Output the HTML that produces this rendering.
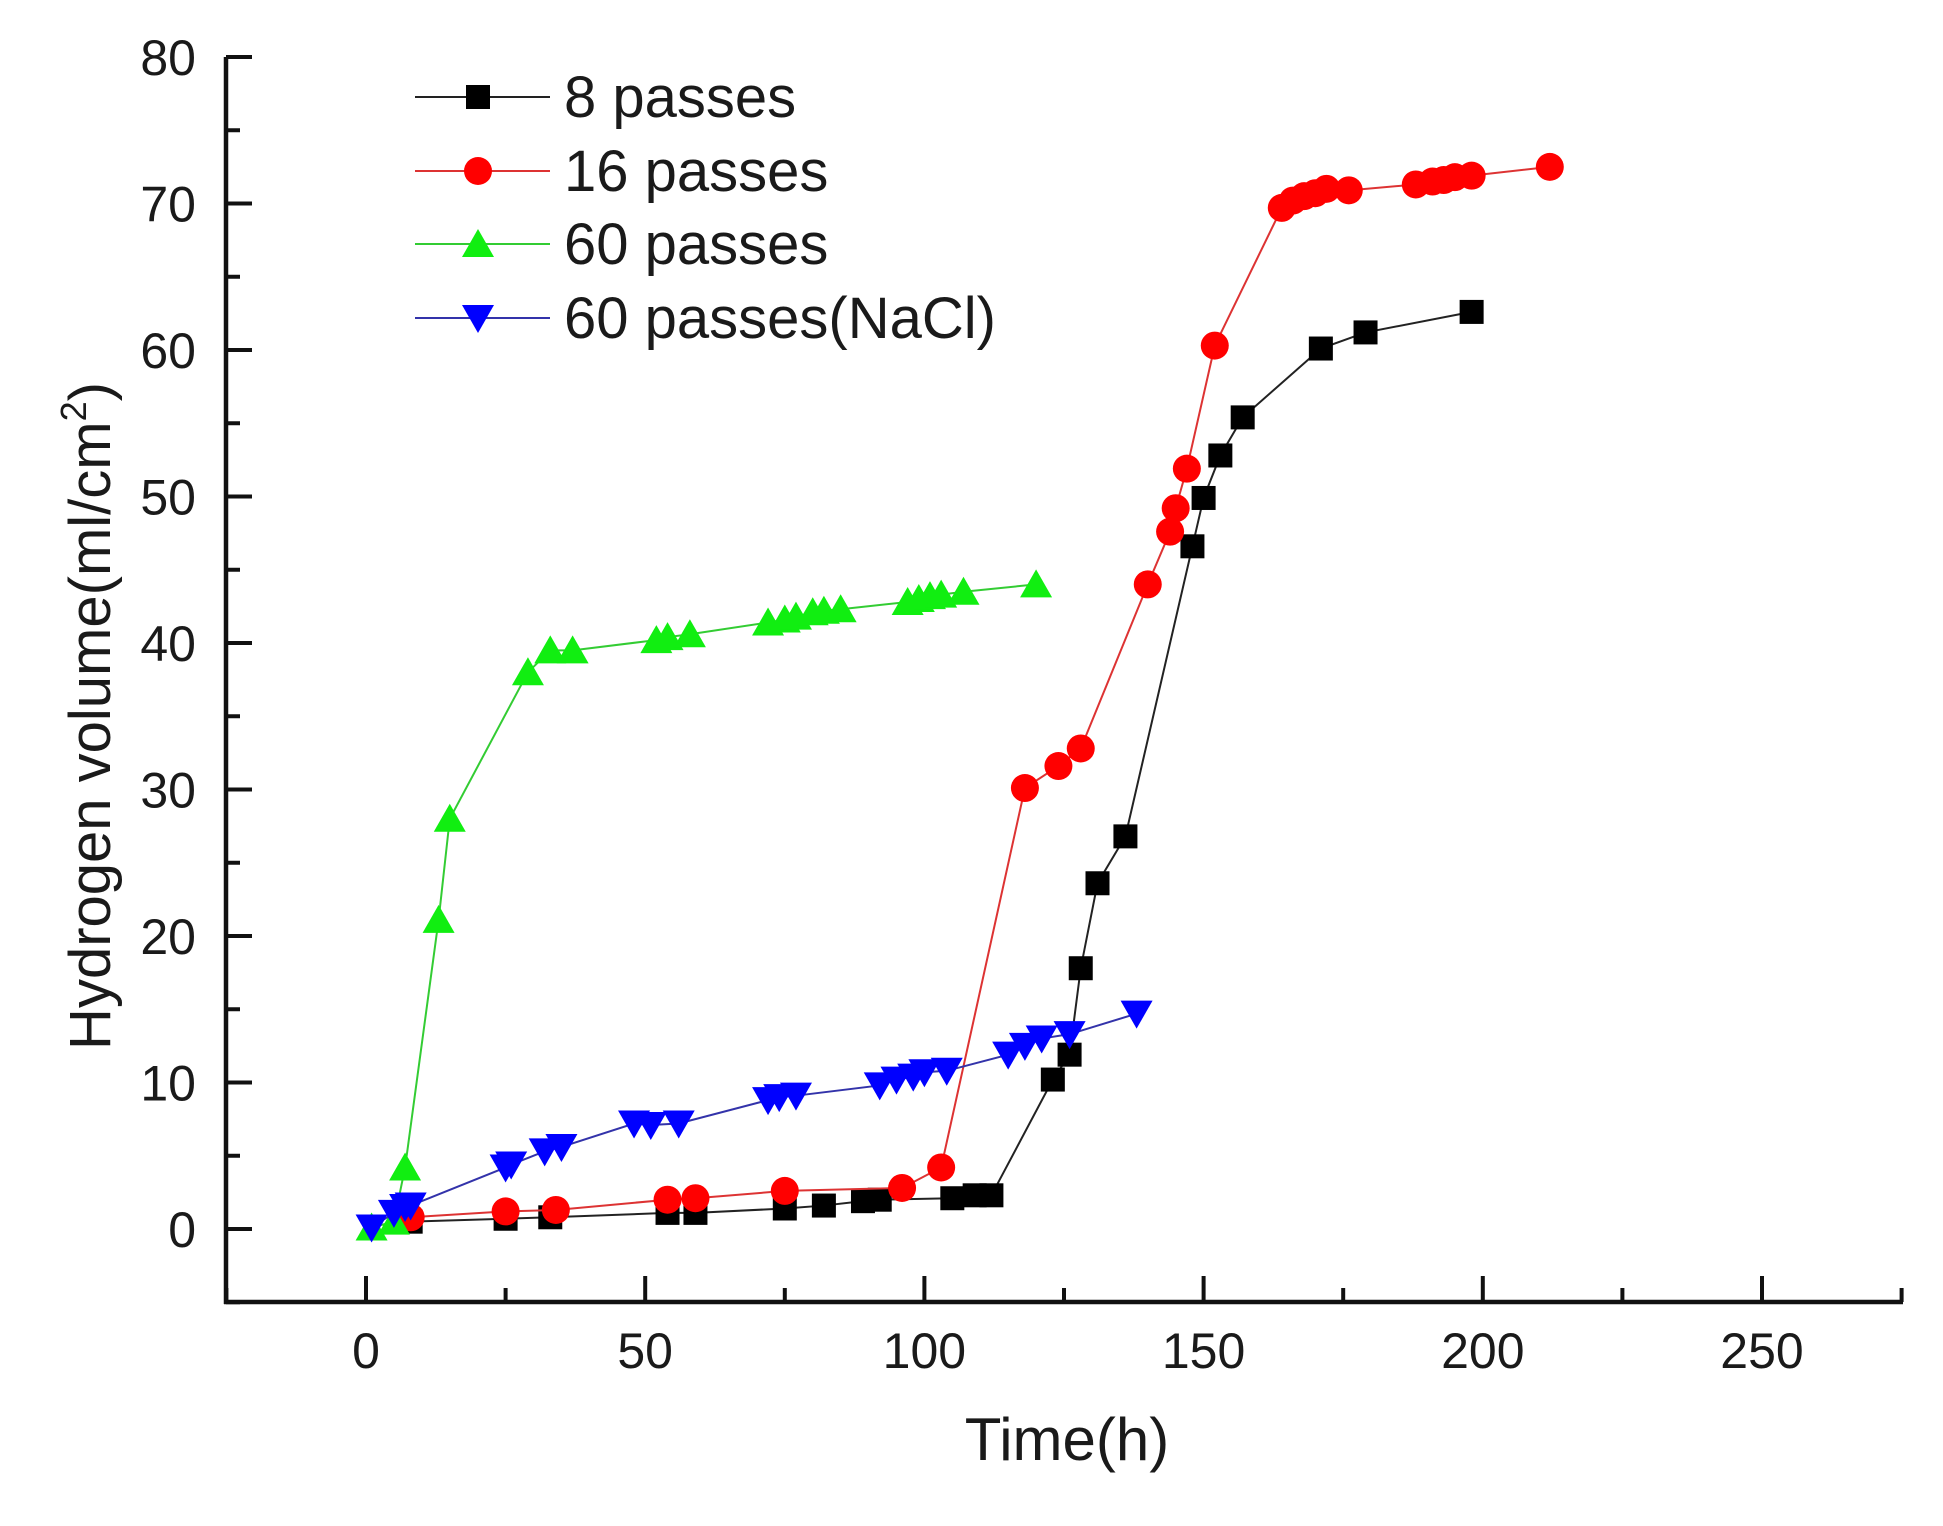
<!DOCTYPE html>
<html><head><meta charset="utf-8"><style>
html,body{margin:0;padding:0;background:#fff;}
svg text{font-family:"Liberation Sans",Arial,sans-serif;fill:#1a1a1a;}
</style></head><body>
<svg id="chart" width="1943" height="1521" viewBox="0 0 1943 1521" xmlns="http://www.w3.org/2000/svg">
<g id="axes"></g>
<g id="series"></g>
<g id="legend"></g>
<text x="1067" y="1460" font-size="60" text-anchor="middle">Time(h)</text>
<text transform="translate(110,716) rotate(-90)" font-size="58" text-anchor="middle">Hydrogen volume(ml/cm<tspan font-size="36" dy="-24">2</tspan><tspan dy="24">)</tspan></text>
</svg>
<script>
const xTicks = [0, 50, 100, 150, 200, 250];
const yTicks = [0, 10, 20, 30, 40, 50, 60, 70, 80];
const s8x = [8,25,33,54,59,75,82,89,92,105,109,112,123,126,128,131,136,148,150,153,157,171,179,198];
const s8y = [0.5,0.7,0.8,1.1,1.1,1.4,1.6,1.9,2.0,2.1,2.3,2.3,10.2,11.9,17.8,23.6,26.8,46.6,49.9,52.8,55.4,60.1,61.2,62.6];
const s16x = [8,25,34,54,59,75,96,103,118,124,128,140,144,145,147,152,164,166,168,170,172,176,188,191,193,195,198,212];
const s16y = [0.8,1.2,1.3,2.0,2.1,2.6,2.8,4.2,30.1,31.6,32.8,44,47.6,49.2,51.9,60.3,69.7,70.2,70.5,70.7,71,70.9,71.3,71.5,71.6,71.8,71.9,72.5];
const s60x = [1,5,7,13,15,29,33,37,52,54,58,72,75,77,80,82,85,97,99,101,103,107,120];
const s60y = [0.1,0.5,4.2,21.1,28,38,39.5,39.5,40.2,40.4,40.6,41.4,41.6,41.8,42.1,42.2,42.3,42.8,43.0,43.2,43.3,43.5,44];
const sNx = [1,5,7,8,25,26,32,35,48,51,56,72,74,77,92,95,98,100,104,115,118,121,126,138];
const sNy = [0.1,1.1,1.5,1.6,4.2,4.4,5.3,5.6,7.2,7.1,7.2,8.8,9.0,9.1,9.8,10.2,10.4,10.7,10.8,11.9,12.5,13.0,13.3,14.7];
const seriesNames = ["8 passes","16 passes","60 passes","60 passes(NaCl)"];

const NS="http://www.w3.org/2000/svg";
const X0=366, XS=5.584, Y0=1229, YS=14.65;
const AX=226, AB=1302, AR=1903, AT=57;
function sx(v){return X0+v*XS;}
function sy(v){return Y0-v*YS;}
function mk(tag,attrs,parent){const e=document.createElementNS(NS,tag);for(const k in attrs)e.setAttribute(k,attrs[k]);parent.appendChild(e);return e;}
const axes=document.getElementById('axes');
let l=mk('line',{x1:AX,y1:AT,x2:AX,y2:AB+2,stroke:'#111','stroke-width':4.5},axes);


l=mk('line',{x1:AX-2,y1:AB,x2:AR,y2:AB,stroke:'#111','stroke-width':4.5},axes);


yTicks.forEach(v=>{
  const t=mk('line',{x1:AX,y1:sy(v),x2:AX+26,y2:sy(v),stroke:'#111','stroke-width':4},axes);
  
  
  if(v<80){const m=mk('line',{x1:AX,y1:sy(v+5),x2:AX+14,y2:sy(v+5),stroke:'#111','stroke-width':4},axes);
  
  }
  const tx=mk('text',{x:AX-30,y:sy(v)+18,'font-size':50,'text-anchor':'end'},axes);
  tx.textContent=v;
  
  
});
const m0=mk('line',{x1:AX,y1:sy(-5),x2:AX+14,y2:sy(-5),stroke:'#111','stroke-width':4},axes);


xTicks.forEach(v=>{
  const t=mk('line',{x1:sx(v),y1:AB,x2:sx(v),y2:AB-26,stroke:'#111','stroke-width':4},axes);
  
  
  const m=mk('line',{x1:sx(v+25),y1:AB,x2:sx(v+25),y2:AB-14,stroke:'#111','stroke-width':4},axes);
  
  
  const tx=mk('text',{x:sx(v),y:AB+66,'font-size':50,'text-anchor':'middle'},axes);
  tx.textContent=v;
  
  
});
const m1=mk('line',{x1:sx(-25),y1:AB,x2:sx(-25),y2:AB-14,stroke:'#111','stroke-width':4},axes);



function marker(type,x,y,color,parent){
  let e;
  if(type==='sq') e=mk('rect',{x:x-12,y:y-12,width:24,height:24,fill:color},parent);
  else if(type==='ci') e=mk('circle',{cx:x,cy:y,r:14,fill:color},parent);
  else if(type==='up') e=mk('polygon',{points:`${x},${y-15} ${x+16},${y+13} ${x-16},${y+13}`,fill:color},parent);
  else e=mk('polygon',{points:`${x},${y+15} ${x+16},${y-13} ${x-16},${y-13}`,fill:color},parent);
  return e;
}
const sg=document.getElementById('series');
const defs=[[s8x,s8y,'#000','#222','sq','series-8-passes'],[s16x,s16y,'#f00','#d33','ci','series-16-passes'],[s60x,s60y,'#1e1','#3c3','up','series-60-passes'],[sNx,sNy,'#00f','#33a','dn','series-60-passes-nacl']];
defs.forEach(d=>{
  const g=mk('g',{},sg);
  
  
  const pts=d[0].map((v,i)=>sx(v)+','+sy(d[1][i])).join(' ');
  const pl=mk('polyline',{points:pts,fill:'none',stroke:d[3],'stroke-width':2},g);
  
  
  d[0].forEach((v,i)=>{
    const e=marker(d[4],sx(v),sy(d[1][i]),d[2],g);
    
    
  });
});
const lg=document.getElementById('legend');
const rowsY=[97,171,244,318];
defs.forEach((d,i)=>{
  const g=mk('g',{},lg);
  
  
  mk('line',{x1:415,y1:rowsY[i],x2:550,y2:rowsY[i],stroke:d[3],'stroke-width':2},g);
  marker(d[4],478,rowsY[i],d[2],g);
  const t=mk('text',{x:564,y:rowsY[i]+20,'font-size':58},g);
  t.textContent=seriesNames[i];
});
</script>
</body></html>
